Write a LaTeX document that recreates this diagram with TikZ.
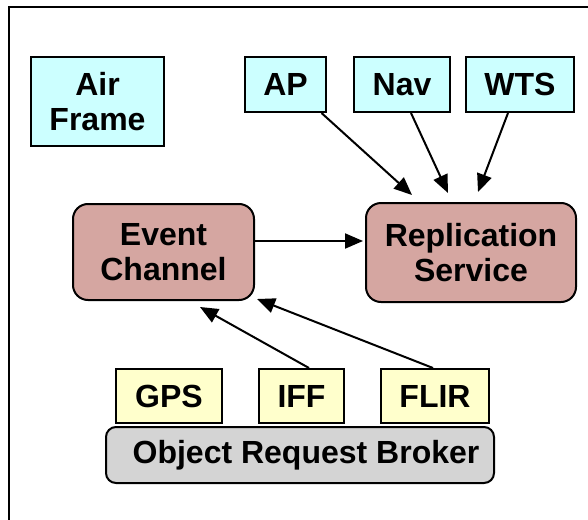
\documentclass[tikz,border=0pt]{standalone}
\usepackage{fontspec}
\setmainfont{Liberation Sans}
\usetikzlibrary{arrows.meta,calc}
\definecolor{modcyan}{HTML}{CCFFFF}
\definecolor{svcrose}{HTML}{D5A6A1}
\definecolor{sensyellow}{HTML}{FFFFCC}
\definecolor{orbgrey}{HTML}{D4D4D4}
\tikzset{
  lbl/.style={font=\fontsize{32}{35}\selectfont\bfseries, align=center, inner sep=0pt},
  module/.style={lbl, draw=black, line width=2pt, fill=modcyan},
  service/.style={lbl, draw=black, line width=2pt, fill=svcrose, rounded corners=15pt},
  sensor/.style={lbl, draw=black, line width=2pt, fill=sensyellow},
  bus/.style={lbl, draw=black, line width=2pt, fill=orbgrey, rounded corners=10pt},
  flow/.style={line width=2pt, -{Triangle[length=18pt,width=15pt]}}
}
\begin{document}
\begin{tikzpicture}[x=1pt,y=-1pt]
\useasboundingbox (0,0) rectangle (588,519);
\clip (0,0) rectangle (588,519);
% outer frame
\draw[line width=2pt] (600,7) -- (9,7) -- (9,530);

% upper modules
\node[module, minimum width=133pt, minimum height=89pt] (air) at (97.5,101.5) {Air\\Frame};
\node[module, minimum width=81pt, minimum height=55pt] (ap) at (285.5,84.5) {AP};
\node[module, minimum width=96pt, minimum height=55pt] (nav) at (402,84.5) {Nav};
\node[module, minimum width=108pt, minimum height=55pt] (wts) at (520,84.5) {WTS};

% services
\node[service, minimum width=181pt, minimum height=96pt] (ev) at (163.5,252) {Event\\Channel};
\node[service, minimum width=210pt, minimum height=99pt] (rep) at (471,252.5) {Replication\\Service};

% sensors and broker
\node[sensor, minimum width=106pt, minimum height=54pt] (gps) at (169,396) {GPS};
\node[sensor, minimum width=85pt, minimum height=54pt] (iff) at (301.5,396) {IFF};
\node[sensor, minimum width=108pt, minimum height=54pt] (flir) at (435,396) {FLIR};
\node[bus, minimum width=388pt, minimum height=56pt] (orb) at (300,455) {};
\node[lbl] (orbtext) at ($(orb.center)+(6,0)$) {Object Request Broker};

% arrow tips
\coordinate (tipap) at (412,195);
\coordinate (tipnav) at (448,193);
\coordinate (tipwts) at (478,192);
\coordinate (tiprep) at (363,241);
\coordinate (tipiff) at (200,307);
\coordinate (tipflir) at (257,299);

% connectors
\draw[flow] ([xshift=36pt]ap.south) -- (tipap);
\draw[flow] ([xshift=9pt]nav.south) -- (tipnav);
\draw[flow] ([xshift=-12pt]wts.south) -- (tipwts);
\draw[flow] (ev.east |- tiprep) -- (tiprep);
\draw[flow] ([xshift=7.5pt]iff.north) -- (tipiff);
\draw[flow] ([xshift=-2pt]flir.north) -- (tipflir);
\end{tikzpicture}
\end{document}
